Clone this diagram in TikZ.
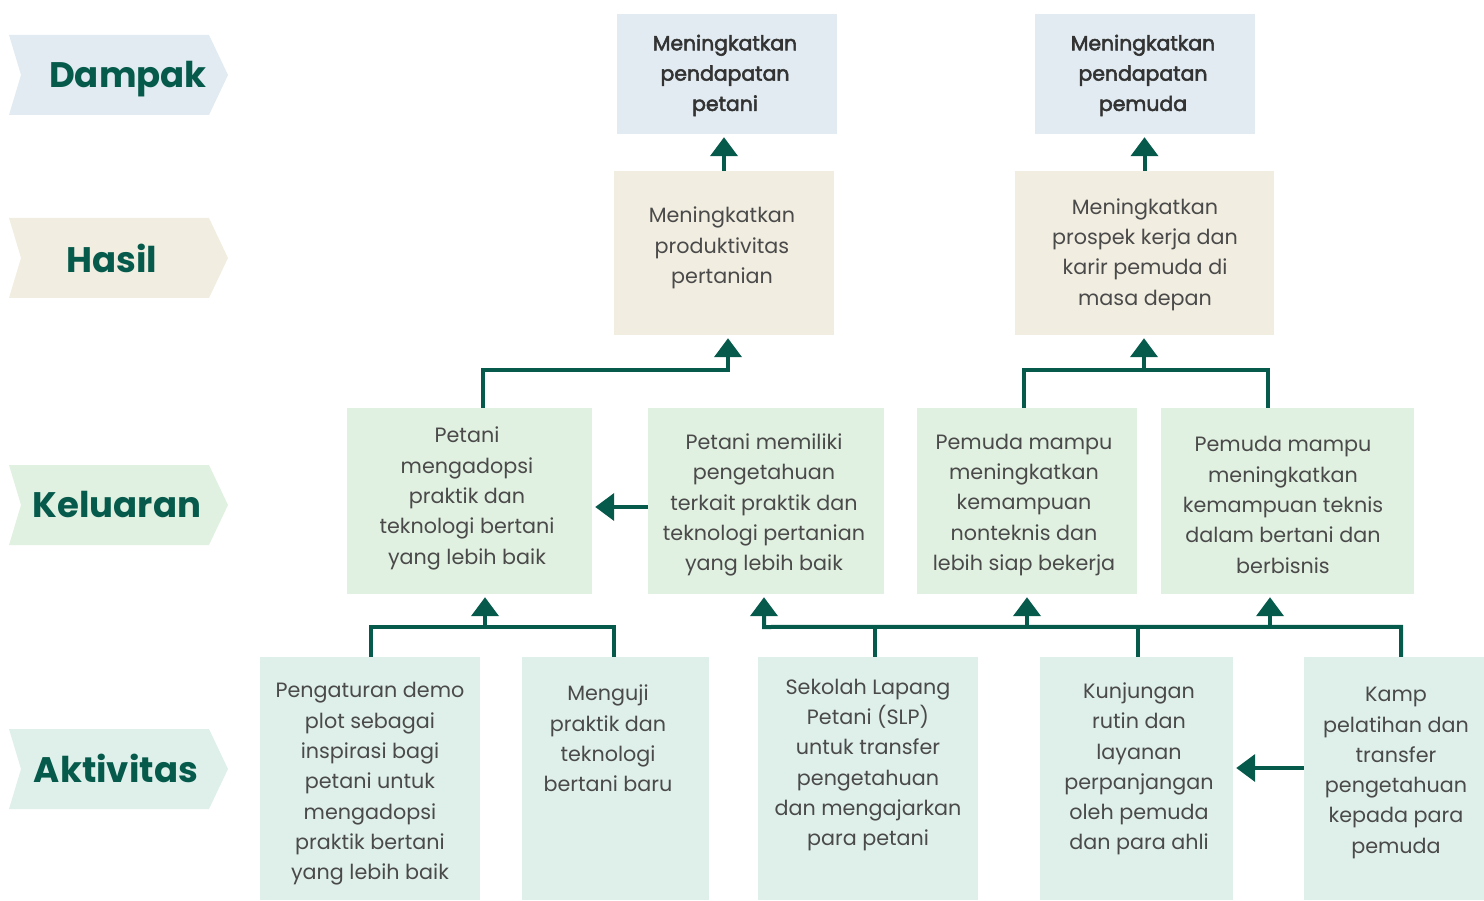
\documentclass[tikz,border=0pt]{standalone}
\usepackage{fontspec}
\setmainfont{Poppins}
\newfontfamily\medfont[FakeBold=2.6]{Poppins}
\usetikzlibrary{arrows.meta,calc}
\definecolor{dkgreen}{HTML}{065A4B}
\definecolor{cD}{HTML}{E1EBF1}
\definecolor{cH}{HTML}{F1EDE0}
\definecolor{cK}{HTML}{E1F1E1}
\definecolor{cA}{HTML}{DFF0EB}
\definecolor{txt}{HTML}{4A4A4A}
\begin{document}
\begin{tikzpicture}[x=1pt,y=-1pt,
  box/.style={draw=none,inner sep=0pt,rectangle},
  bt/.style={align=center,text=txt,font=\fontsize{20.7}{30.3}\selectfont,inner sep=0pt},
  dt/.style={align=center,text=black!80,font=\medfont\fontsize{20.4}{30.3}\selectfont,inner sep=0pt},
  lab/.style={text=dkgreen,font=\fontsize{35.5}{38}\selectfont\bfseries,inner sep=0pt},
  ln/.style={draw=dkgreen,line width=4pt,line join=miter},
  arr/.style={ln,-{Triangle[width=27pt,length=19pt]},shorten >=3pt}]
\useasboundingbox (0,0) rectangle (1484,901);
% side chevrons
\foreach \yy/\cc in {35/cD,218/cH,465/cK,729/cA}{
  \fill[\cc] (9,\yy) -- (209,\yy) -- (228,\yy+40) -- (209,\yy+80) -- (9,\yy+80) -- (21,\yy+40) -- cycle;
}
\node[lab] (lD) at (128,79.5) {Dampak};
\node[lab] (lH) at (112,258) {Hasil};
\node[lab] (lK) at (117,505) {Keluaran};
\node[lab] (lA) at (116,768) {Aktivitas};
% boxes
\node[box,fill=cD,minimum width=220pt,minimum height=120pt] (d1) at (727,74) {};
\node[box,fill=cD,minimum width=220pt,minimum height=120pt] (d2) at (1145,74) {};
\node[box,fill=cH,minimum width=220pt,minimum height=164pt] (h1) at (724,253) {};
\node[box,fill=cH,minimum width=259pt,minimum height=164pt] (h2) at (1144.5,253) {};
\node[box,fill=cK,minimum width=245pt,minimum height=186pt] (k1) at (469.5,501) {};
\node[box,fill=cK,minimum width=236pt,minimum height=186pt] (k2) at (766,501) {};
\node[box,fill=cK,minimum width=220pt,minimum height=186pt] (k3) at (1027,501) {};
\node[box,fill=cK,minimum width=253pt,minimum height=186pt] (k4) at (1287.5,501) {};
\node[box,fill=cA,minimum width=220pt,minimum height=243pt] (a1) at (370,778.5) {};
\node[box,fill=cA,minimum width=187pt,minimum height=243pt] (a2) at (615.5,778.5) {};
\node[box,fill=cA,minimum width=220pt,minimum height=243pt] (a3) at (868,778.5) {};
\node[box,fill=cA,minimum width=193pt,minimum height=243pt] (a4) at (1136.5,778.5) {};
\node[box,fill=cA,minimum width=180pt,minimum height=243pt] (a5) at (1394,778.5) {};
% texts
\node[dt] (td1) at (725,75.5) {Meningkatkan\\pendapatan\\petani};
\node[dt] (td2) at (1143,75.5) {Meningkatkan\\pendapatan\\pemuda};
\node[bt] (th1) at (722,248) {Meningkatkan\\produktivitas\\pertanian};
\node[bt] (th2) at (1145,254.5) {Meningkatkan\\prospek kerja dan\\karir pemuda di\\masa depan};
\node[bt] (tk1) at (467,498.5) {Petani\\mengadopsi\\praktik dan\\teknologi bertani\\yang lebih baik};
\node[bt] (tk2) at (764,505) {Petani memiliki\\pengetahuan\\terkait praktik dan\\teknologi pertanian\\yang lebih baik};
\node[bt] (tk3) at (1024,505) {Pemuda mampu\\meningkatkan\\kemampuan\\nonteknis dan\\lebih siap bekerja};
\node[bt] (tk4) at (1283,505) {Pemuda mampu\\meningkatkan\\kemampuan teknis\\dalam bertani dan\\berbisnis};
\node[bt] (ta1) at (370,784) {Pengaturan demo\\plot sebagai\\inspirasi bagi\\petani untuk\\mengadopsi\\praktik bertani\\yang lebih baik};
\node[bt] (ta2) at (608,738.5) {Menguji\\praktik dan\\teknologi\\bertani baru};
\node[bt] (ta3) at (868,765) {Sekolah Lapang\\Petani (SLP)\\untuk transfer\\pengetahuan\\dan mengajarkan\\para petani};
\node[bt] (ta4) at (1139,769) {Kunjungan\\rutin dan\\layanan\\perpanjangan\\oleh pemuda\\dan para ahli};
\node[bt] (ta5) at (1396,773) {Kamp\\pelatihan dan\\transfer\\pengetahuan\\kepada para\\pemuda};
% connectors
\draw[arr] (h1.north) -- (h1.north |- d1.south);
\draw[arr] (h2.north) -- (h2.north |- d2.south);
\draw[arr] ([xshift=13.5pt]k1.north) -- ++(0,-38) -| ([xshift=4pt]h1.south);
\draw[ln] ([xshift=-3pt]k3.north) -- ++(0,-38) -| ([xshift=-19.5pt]k4.north);
\coordinate (j2) at (1144,370);
\draw[arr] (j2) -- (j2 |- h2.south);
\draw[arr] ([yshift=-6pt]k2.west) -- ([yshift=-6pt]k1.east);
\draw[ln] ([xshift=1pt]a1.north) -- ++(0,-30) -| ([xshift=-1.5pt]a2.north);
\coordinate (j1) at (485,627);
\draw[arr] (j1) -- (j1 |- k1.south);
\coordinate (b1) at (764,627);
\coordinate (b3) at (1027,627);
\coordinate (b4) at (1270,627);
\draw[ln] ([xshift=7pt]a3.north) -- ++(0,-30);
\draw[ln] ([xshift=1.5pt]a4.north) -- ++(0,-30);
\draw[arr] ([xshift=7pt]a5.north) -- ++(0,-30) -- (b1) -- (b1 |- k2.south);
\draw[arr] (b3) -- (b3 |- k3.south);
\draw[arr] (b4) -- (b4 |- k4.south);
\draw[arr] ([yshift=10.5pt]a5.west) -- ([yshift=10.5pt]a4.east);
\end{tikzpicture}
\end{document}
